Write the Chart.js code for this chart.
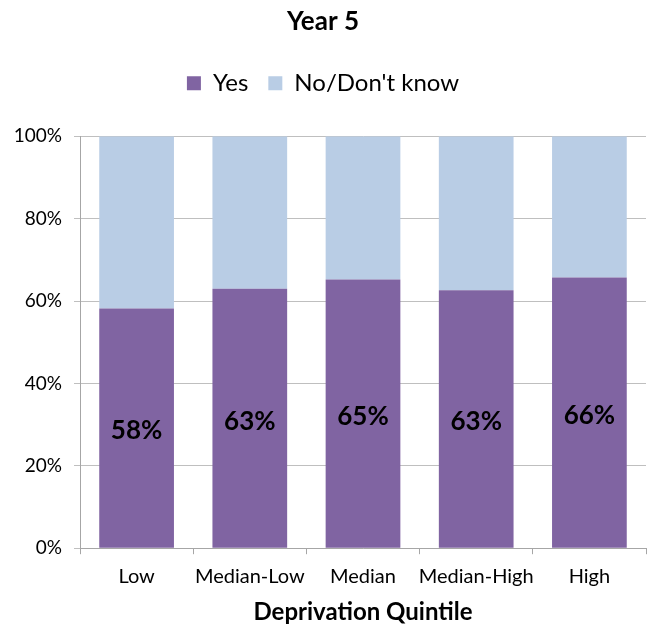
<!DOCTYPE html>
<html>
<head>
<meta charset="utf-8">
<script src="https://cdn.jsdelivr.net/npm/chart.js@4"></script>
<style>
  html, body { margin: 0; padding: 0; background: #fff; }
  #wrap { width: 651px; height: 627px; }
</style>
</head>
<body>
<div id="wrap"><canvas id="yearChart" width="651" height="627"></canvas></div>
<script>
// chart data
var quintiles = ["Low", "Median-Low", "Median", "Median-High", "High"];
var yesValues = [58.2, 63.0, 65.2, 62.6, 65.7];
var noValues = [41.8, 37.0, 34.8, 37.4, 34.3];
var yesLabels = ["58%", "63%", "65%", "63%", "66%"];
var yTicks = [0, 20, 40, 60, 80, 100];

var fontFamily = "Lato, 'Noto Sans', sans-serif";
var legendGap = 31; // extra space between legend and plot

// Draw the percentage inside each "Yes" bar
var barLabels = {
  id: "barLabels",
  afterDatasetsDraw: function (chart) {
    var ctx = chart.ctx;
    var meta = chart.getDatasetMeta(0);
    ctx.save();
    ctx.font = "bold 26px " + fontFamily;
    ctx.fillStyle = "#000";
    ctx.textAlign = "center";
    ctx.textBaseline = "middle";
    meta.data.forEach(function (bar, i) {
      var mid = (bar.y + bar.base) / 2;
      ctx.fillText(yesLabels[i], bar.x, mid + 3);
    });
    ctx.restore();
  }
};

// Push the plot down below the legend
var legendSpace = {
  id: "legendSpace",
  beforeLayout: function (chart) {
    var lg = chart.legend;
    if (lg && !lg._spaced) {
      var fit = lg.fit;
      lg.fit = function () {
        fit.call(this);
        this.height += legendGap;
      };
      lg._spaced = true;
    }
  }
};

var ctx = document.getElementById("yearChart").getContext("2d");
var yearChart = new Chart(ctx, {
  type: "bar",
  data: {
    labels: quintiles,
    datasets: [
      {
        label: "Yes",
        data: yesValues,
        backgroundColor: "#8064A2",
        categoryPercentage: 1,
        barPercentage: 0.66
      },
      {
        label: "No/Don't know",
        data: noValues,
        backgroundColor: "#B9CDE5",
        categoryPercentage: 1,
        barPercentage: 0.66
      }
    ]
  },
  options: {
    responsive: false,
    animation: false,
    layout: { padding: { left: 0, right: 5, top: 0, bottom: 0 } },
    plugins: {
      title: {
        display: true,
        text: "Year 5",
        color: "#000",
        font: { family: fontFamily, size: 26, weight: "bold" },
        padding: { top: 6, bottom: 14 }
      },
      legend: {
        position: "top",
        labels: {
          color: "#000",
          font: { family: fontFamily, size: 24 },
          boxWidth: 14,
          boxHeight: 14,
          padding: 20
        }
      },
      tooltip: { enabled: false }
    },
    scales: {
      x: {
        stacked: true,
        grid: {
          offset: true,
          drawOnChartArea: false,
          drawTicks: true,
          tickLength: 6,
          color: "#a6a6a6"
        },
        border: { color: "#a6a6a6", width: 1 },
        ticks: {
          color: "#000",
          font: { family: fontFamily, size: 20 },
          padding: 10,
          autoSkip: false,
          maxRotation: 0
        },
        title: {
          display: true,
          text: "Deprivation Quintile",
          color: "#000",
          font: { family: fontFamily, size: 24, weight: "bold" },
          padding: { top: 0, bottom: 0 }
        }
      },
      y: {
        stacked: true,
        min: 0,
        max: 100,
        afterBuildTicks: function (axis) {
          axis.ticks = yTicks.map(function (v) { return { value: v }; });
        },
        afterFit: function (axis) {
          axis.width = 80;
        },
        grid: {
          color: "#bfbfbf",
          tickLength: 6
        },
        border: { color: "#a6a6a6", width: 1 },
        ticks: {
          color: "#000",
          font: { family: fontFamily, size: 19 },
          padding: 12,
          callback: function (v) { return v + "%"; }
        }
      }
    }
  },
  plugins: [barLabels, legendSpace]
});
</script>
</body>
</html>
